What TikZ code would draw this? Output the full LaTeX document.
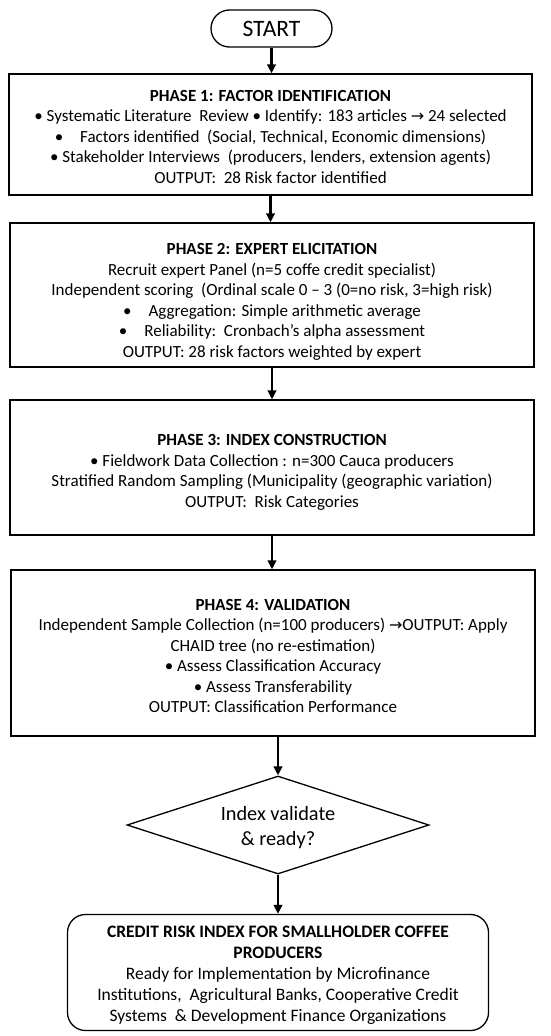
\documentclass[tikz,border=0pt]{standalone}
\usepackage{fontspec}
\setmainfont{Carlito}[Ligatures={ResetAll,Common}]
\newfontfamily\symf{DejaVu Sans}
\usetikzlibrary{shapes.geometric,arrows.meta}
\newcommand{\ar}{{\symf\fontsize{16}{16}\selectfont →}}
\begin{document}
\begin{tikzpicture}[x=1pt,y=1pt,
  phase/.style={draw, line width=1.3pt, inner sep=0pt},
  ptext/.style={align=center, inner sep=0pt, font=\fontsize{17}{20.5}\selectfont},
  flow/.style={-{Triangle[length=9pt,width=8.5pt]}, line width=2.6pt},
]
\useasboundingbox (0,0) rectangle (550,-1036);
\fill[white] (0,0) rectangle (550,-1036);

\node[draw, line width=1.3pt, rounded corners=18.5pt, minimum width=121pt, minimum height=37pt,
  font=\fontsize{23.5}{26}\selectfont] (start) at (271.5,-28.5) {START};

\node[phase, minimum width=523pt, minimum height=121pt] (p1) at (270.5,-134.5) {};
\node[ptext] (p1t) at ([yshift=-2pt]p1.center)
{\textbf{PHASE 1: FACTOR IDENTIFICATION}\\
• Systematic Literature\ \ Review • Identify: 183 articles \ar\ 24 selected\\
•\quad Factors identified\ \ (Social, Technical, Economic dimensions)\\
• Stakeholder Interviews\ \ (producers, lenders, extension agents)\\
OUTPUT:\ \ 28 Risk factor identified};

\node[phase, minimum width=524pt, minimum height=144pt] (p2) at (272,-295) {};
\node[ptext] (p2t) at ([yshift=-7pt]p2.center)
{\textbf{PHASE 2: EXPERT ELICITATION}\\
Recruit expert Panel (n=5 coffe credit specialist)\\
Independent scoring\ \ (Ordinal scale 0 – 3 (0=no risk, 3=high risk)\\
•\quad Aggregation: Simple arithmetic average\\
•\quad Reliability:\ \ Cronbach's alpha assessment\\
OUTPUT: 28 risk factors weighted by expert};

\node[phase, minimum width=524pt, minimum height=135pt] (p3) at (272,-467.5) {};
\node[ptext] (p3t) at ([yshift=-5pt]p3.center)
{\textbf{PHASE 3: INDEX CONSTRUCTION}\\
• Fieldwork Data Collection : n=300 Cauca producers\\
Stratified Random Sampling (Municipality (geographic variation)\\
OUTPUT:\ \ Risk Categories};

\node[phase, minimum width=524pt, minimum height=166pt] (p4) at (273,-653) {};
\node[ptext] (p4t) at ([yshift=-3pt]p4.center)
{\textbf{PHASE 4: VALIDATION}\\
Independent Sample Collection (n=100 producers) \ar OUTPUT: Apply\\
CHAID tree (no re-estimation)\\
• Assess Classification Accuracy\\
• Assess Transferability\\
OUTPUT: Classification Performance};

\node[draw, diamond, line width=1.3pt, inner sep=0pt, minimum width=302pt, minimum height=98pt] (dec) at (278,-825) {};
\node[ptext, font=\fontsize{20.3}{25}\selectfont] (dect) at ([yshift=-3pt]dec.center)
{Index validate\\ \& ready?};

\node[phase, rounded corners=18pt, minimum width=421pt, minimum height=116pt] (end) at (278,-972.5) {};
\node[ptext, font=\fontsize{17.5}{21}\selectfont] (endt) at ([yshift=-3pt]end.center)
{\textbf{CREDIT RISK INDEX FOR SMALLHOLDER COFFEE}\\
\textbf{PRODUCERS}\\
Ready for Implementation by Microfinance\\
Institutions,\ \ Agricultural Banks, Cooperative Credit\\
Systems\ \ \& Development Finance Organizations};

\draw[flow] (start.south) -- (start.south |- p1.north);
\draw[flow] (p1.south) -- (p1.south |- p2.north);
\draw[flow] (p2.south) -- (p2.south |- p3.north);
\draw[flow] (p3.south) -- (p3.south |- p4.north);
\draw[flow] (p4.south -| dec.north) -- (dec.north);
\draw[flow] (dec.south) -- (dec.south |- end.north);
\end{tikzpicture}
\end{document}
